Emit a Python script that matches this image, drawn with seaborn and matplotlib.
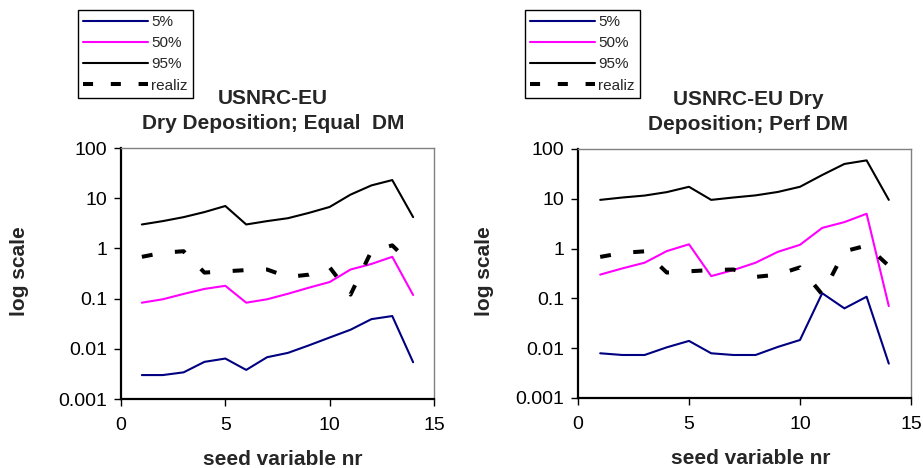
import numpy as np
import matplotlib
matplotlib.use('Agg')
import matplotlib.pyplot as plt
from matplotlib.lines import Line2D
import seaborn as sns

# seed variables 1..14
seed = [1, 2, 3, 4, 5, 6, 7, 8, 9, 10, 11, 12, 13, 14]

# Equal DM
eq_p05 = [0.0030, 0.0030, 0.0034, 0.0055, 0.0064, 0.0038, 0.0068, 0.0083, 0.0117, 0.0168, 0.024, 0.039, 0.045, 0.0054]
eq_p50 = [0.083, 0.097, 0.124, 0.156, 0.18, 0.083, 0.097, 0.125, 0.165, 0.214, 0.38, 0.49, 0.68, 0.118]
eq_p95 = [3.0, 3.5, 4.2, 5.3, 7.0, 3.0, 3.5, 4.0, 5.1, 6.7, 11.8, 18.0, 23.0, 4.2]

# Perf DM
pf_p05 = [0.0079, 0.0073, 0.0073, 0.0104, 0.014, 0.0079, 0.0073, 0.0073, 0.0106, 0.0146, 0.127, 0.063, 0.108, 0.0049]
pf_p50 = [0.30, 0.40, 0.52, 0.89, 1.22, 0.28, 0.37, 0.52, 0.86, 1.19, 2.6, 3.4, 5.0, 0.070]
pf_p95 = [9.5, 10.6, 11.6, 13.6, 17.4, 9.5, 10.6, 11.7, 13.7, 17.4, 30.0, 50.0, 59.0, 9.5]

# realizations (same for both)
realiz = [0.68, 0.82, 0.88, 0.33, 0.35, 0.37, 0.38, 0.27, 0.30, 0.42, 0.12, 0.88, 1.15, 0.45]

labels = ['5%', '50%', '95%', 'realiz']
colors = ['#000080', '#ff00ff', 'black', 'black']

yticks = [0.001, 0.01, 0.1, 1, 10, 100]
ytick_labels = ['0.001', '0.01', '0.1', '1', '10', '100']
xticks = [0, 5, 10, 15]

sns.set_style('white')
plt.rcParams['font.family'] = ['Liberation Sans', 'DejaVu Sans']

fig = plt.figure(figsize=(9.23, 4.68), dpi=100)
ax1 = fig.add_axes([0.1311, 0.1474, 0.3391, 0.5363])
ax2 = fig.add_axes([0.6262, 0.1496, 0.3608, 0.5321])

# title lines kept as two texts
panels = [
    (ax1, eq_p05, eq_p50, eq_p95, ('USNRC-EU', 'Dry Deposition; Equal  DM'), 0.486, (78, 10), -0.295),
    (ax2, pf_p05, pf_p50, pf_p95, ('USNRC-EU Dry', 'Deposition; Perf DM'), 0.51, (525, 10), -0.252),
]

for ax, p05, p50, p95, title, tx, leg_px, ylab_x in panels:
    for vals, c, lab in zip([p05, p50, p95], colors[:3], labels[:3]):
        sns.lineplot(x=seed, y=vals, ax=ax, color=c, lw=1.5, label=lab, legend=False)
    sns.lineplot(x=seed, y=realiz, ax=ax, color='black', lw=2.9, label='realiz', legend=False)
    ax.lines[-1].set_dashes((2.7, 5.6))

    ax.set_yscale('log')
    ax.set_ylim(0.001, 100)
    ax.set_xlim(0, 15)
    ax.set_yticks(yticks)
    ax.set_yticklabels(ytick_labels)
    ax.yaxis.set_minor_locator(matplotlib.ticker.NullLocator())
    ax.set_xticks(xticks)
    ax.tick_params(axis='both', direction='out', length=5, width=1, labelsize=14,
                   colors='black', left=True, bottom=True)
    ax.tick_params(axis='y', pad=5)
    ax.tick_params(axis='x', pad=8)

    for side in ['left', 'bottom']:
        ax.spines[side].set_color('black')
        ax.spines[side].set_linewidth(1.6)
    for side in ['top', 'right']:
        ax.spines[side].set_color('#808080')
        ax.spines[side].set_linewidth(1.0)

    ax.set_xlabel('seed variable nr', fontsize=15, fontweight='bold')
    ax.xaxis.set_label_coords(0.518, -0.205)
    ax.set_ylabel('log scale', fontsize=15, fontweight='bold')
    ax.yaxis.set_label_coords(ylab_x, 0.51)

    ax.set_title(title[1], fontsize=15, fontweight='bold', pad=14, x=tx)
    ax.annotate(title[0], xy=(tx, 1), xycoords='axes fraction', xytext=(0, 32),
                textcoords='offset points', ha='center', va='baseline',
                fontsize=15, fontweight='bold')

    handles = [Line2D([], [], color=c, lw=1.5) for c in colors[:3]]
    handles.append(Line2D([], [], color='black', lw=2.9, dashes=(2.5, 4.4)))
    leg = fig.legend(handles, labels, loc='upper left',
                     bbox_to_anchor=(leg_px[0] / 923, 1 - leg_px[1] / 468),
                     bbox_transform=fig.transFigure, borderaxespad=0,
                     fontsize=11, handlelength=4.25, handletextpad=0.2,
                     labelspacing=0.47, borderpad=0.33, fancybox=False,
                     edgecolor='black', framealpha=1)
    leg.get_frame().set_linewidth(1.0)

fig.savefig('out.png', dpi=100)
